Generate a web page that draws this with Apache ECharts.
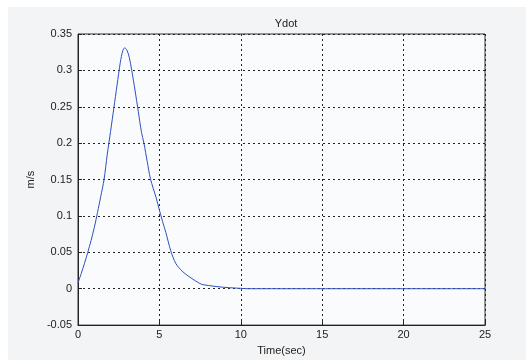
<!DOCTYPE html>
<html>
<head>
<meta charset="utf-8">
<script src="https://cdn.jsdelivr.net/npm/echarts@6/dist/echarts.min.js"></script>
<style>
  html, body { margin: 0; padding: 0; background: #fff; }
  .wrap { position: relative; width: 526px; height: 361px; overflow: hidden; }
  .panel { position: absolute; left: 8px; top: 7px; right: 0; bottom: 1px; background: #f2f4f6; }
  #chart { position: absolute; left: 0; top: 0; width: 526px; height: 361px; }
</style>
</head>
<body>
<div class="wrap">
  <div class="panel"></div>
  <div id="chart"></div>
</div>
<script>
// Ydot response
const timeSec = [0, 0.2, 0.4, 0.6, 0.8, 1.0, 1.2, 1.4, 1.6, 1.8, 2.0, 2.2, 2.4, 2.6, 2.75, 2.87, 3.0, 3.15, 3.3, 3.5, 3.7, 3.9, 4.05, 4.25, 4.45, 4.8, 5.0, 5.2, 5.4, 5.7, 6.0, 6.4, 6.8, 7.2, 7.6, 8.0, 8.6, 9.3, 10.0, 10.5, 25]
const ydot = [0.008, 0.021, 0.035, 0.05, 0.066, 0.084, 0.105, 0.127, 0.15, 0.185, 0.216, 0.248, 0.28, 0.311, 0.327, 0.331, 0.328, 0.318, 0.3, 0.273, 0.244, 0.215, 0.2, 0.175, 0.151, 0.125, 0.108, 0.092, 0.077, 0.052, 0.035, 0.024, 0.017, 0.011, 0.006, 0.0045, 0.0027, 0.0014, 0.0005, 0, 0]
const xTicks = [0, 5, 10, 15, 20, 25]

const chart = echarts.init(document.getElementById('chart'))
const font = 'Liberation Sans'
chart.setOption({
  backgroundColor: 'transparent',
  animation: false,
  title: {
    text: 'Ydot',
    left: 281,
    top: 13,
    textAlign: 'center',
    textStyle: { fontFamily: font, fontSize: 11, fontWeight: 'normal', color: '#222' }
  },
  grid: {
    left: 78, right: 41, top: 34, bottom: 32,
    show: true,
    backgroundColor: '#f9fbfc',
    borderColor: '#333',
    borderWidth: 1
  },
  xAxis: {
    type: 'value',
    min: xTicks[0],
    max: xTicks[xTicks.length - 1],
    interval: 5,
    name: 'Time(sec)',
    nameLocation: 'middle',
    nameGap: 18,
    nameTextStyle: { fontFamily: font, fontSize: 11, color: '#222' },
    axisLine: { show: true, onZero: false, lineStyle: { color: '#222', width: 1 } },
    axisTick: { show: true, inside: true, length: 4, lineStyle: { color: '#222' } },
    axisLabel: { fontFamily: font, fontSize: 11, color: '#222', margin: 4 },
    splitLine: { show: true, lineStyle: { color: '#222', type: [2, 3], width: 1 } }
  },
  yAxis: {
    type: 'value',
    min: -0.05,
    max: 0.35,
    interval: 0.05,
    name: 'm/s',
    nameLocation: 'middle',
    nameGap: 40,
    nameTextStyle: { fontFamily: font, fontSize: 11, color: '#222' },
    axisLine: { show: true, onZero: false, lineStyle: { color: '#222', width: 1 } },
    axisTick: { show: true, inside: true, length: 4, lineStyle: { color: '#222' } },
    axisLabel: {
      fontFamily: font, fontSize: 11, color: '#222', margin: 6,
      formatter: v => String(parseFloat(v.toFixed(2)))
    },
    splitLine: { show: true, lineStyle: { color: '#222', type: [2, 3], width: 1 } }
  },
  series: [{
    type: 'line',
    data: timeSec.map((t, i) => [t, ydot[i]]),
    showSymbol: false,
    smooth: 0.3,
    lineStyle: { color: '#3050c0', width: 1 }
  }]
})
</script>
</body>
</html>
